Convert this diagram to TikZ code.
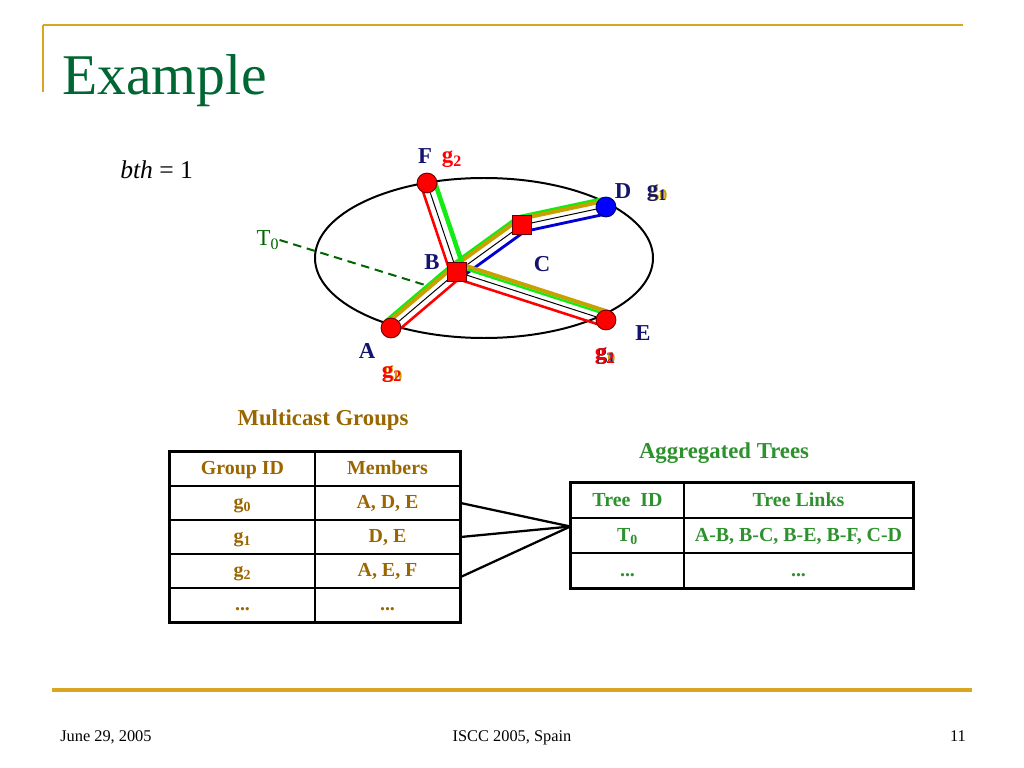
\documentclass[tikz,border=0pt]{standalone}
\usepackage{fontspec}
\setmainfont{Liberation Serif}
\usetikzlibrary{calc, backgrounds}

\definecolor{rulegold}{RGB}{218,165,32}
\definecolor{titlegreen}{RGB}{0,102,51}
\definecolor{navy}{RGB}{20,20,110}
\definecolor{groupbrown}{RGB}{153,102,0}
\definecolor{treegreen}{RGB}{45,145,45}
\definecolor{linkgold}{RGB}{200,160,0}
\definecolor{linkgreen}{RGB}{20,235,20}
\definecolor{linkblue}{RGB}{0,0,210}
\definecolor{dashgreen}{RGB}{0,100,0}

\newcommand{\offsetlink}[4]{\draw[#4] ($(#1)!#3!90:(#2)$) -- ($(#2)!#3!-90:(#1)$);}

\tikzset{
	endnode/.style = {circle, draw = black!60!red, fill = red, line width = 0.6pt, minimum size = 14pt, inner sep = 0pt},
	router/.style = {rectangle, draw = black!60!red, fill = red, line width = 0.6pt, minimum size = 13.4pt, inner sep = 0pt},
	letter/.style = {font = \fontsize{16}{18}\selectfont\bfseries, text = navy, inner sep = 0pt},
	grplabel/.style = {font = \fontsize{16}{18}\selectfont\bfseries, inner sep = 0pt},
	gcell/.style = {draw, line width = 0.9pt, minimum width = 101.95pt, minimum height = 23.9pt, inner sep = 0pt, text height = 11pt, text depth = 3pt, font = \fontsize{14}{16}\selectfont\bfseries, text = groupbrown},
	tcell/.style = {draw, line width = 0.9pt, minimum height = 24.6pt, inner sep = 0pt, text height = 11pt, text depth = 3pt, font = \fontsize{14}{16}\selectfont\bfseries, text = treegreen},
	foot/.style = {font = \fontsize{11.5}{13}\selectfont, inner sep = 0pt, anchor = base}
}

\begin{document}
\begin{tikzpicture}[x = 0.703125pt, y = -0.703125pt]
	\useasboundingbox (0,0) rectangle (1024,768);
	\draw[rulegold, line width = 1.5pt] (43,25) -- (963,25);
	\draw[rulegold, line width = 1.2pt] (43,25) -- (43,92);
	\draw[rulegold, line width = 2.2pt] (52,690) -- (972,690);
	\node[anchor = base west, inner sep = 0pt, text = titlegreen, font = \fontsize{40.5}{44}\selectfont] (title) at (62,95) {Example};
	\node[anchor = base west, inner sep = 0pt, font = \fontsize{18}{20}\selectfont] (bth) at (120,179) {\textit{bth} = 1};

	\node[endnode] (A) at (391,328) {};
	\node[endnode] (E) at (606,320) {};
	\node[endnode] (F) at (427,183) {};
	\node[endnode, fill = blue, draw = black!60!blue] (D) at (606,207) {};
	\node[router] (B) at (457,272) {};
	\node[router] (C) at (522,225) {};

	\node[letter] (labF) at (425,156) {F};
	\node[letter] (labD) at (623,191) {D};
	\node[letter] (labB) at (432,262) {B};
	\node[letter] (labC) at (542,264) {C};
	\node[letter] (labE) at (643,333) {E};
	\node[letter] (labA) at (367,351) {A};

	\node[grplabel, text = red] (gF) at (452,159) {g\textsubscript{2}};
	\node[grplabel, text = linkgold] (gD0) at (658,193) {g\textsubscript{0}};
	\node[grplabel, text = navy] (gD1) at (657,193) {g\textsubscript{1}};
	\node[grplabel, text = linkgold] (gE0) at (606,356) {g\textsubscript{0}};
	\node[grplabel, text = navy] (gE1) at (606,356) {g\textsubscript{1}};
	\node[grplabel, text = red] (gE2) at (605,356) {g\textsubscript{2}};
	\node[grplabel, text = linkgold] (gA0) at (393,374) {g\textsubscript{0}};
	\node[grplabel, text = red] (gA2) at (392,374) {g\textsubscript{2}};

	\node[inner sep = 0pt, text = dashgreen, font = \fontsize{16}{18}\selectfont] (T0) at (268,240) {T\textsubscript{0}};
	\coordinate (T0end) at (425,285);

	\begin{scope}[on background layer]
		\draw[line width = 1.4pt] (484,258) ellipse [x radius = 169, y radius = 80];
		\draw[dashgreen, line width = 1.4pt, dash pattern = on 6pt off 4pt] (T0.east) -- (T0end);
		\offsetlink{A}{B}{6.4pt}{linkgreen, line width = 1.8pt}
		\offsetlink{A}{B}{4.4pt}{linkgold, line width = 2.8pt}
		\draw[line width = 0.7pt] (A) -- (B);
		\offsetlink{A}{B}{-4.6pt}{red, line width = 1.8pt}
		\offsetlink{B}{C}{6.4pt}{linkgreen, line width = 1.8pt}
		\offsetlink{B}{C}{4.4pt}{linkgold, line width = 2.8pt}
		\draw[line width = 0.7pt] (B) -- (C);
		\offsetlink{B}{C}{-4.8pt}{linkblue, line width = 2pt}
		\offsetlink{C}{D}{6.4pt}{linkgreen, line width = 1.8pt}
		\offsetlink{C}{D}{4.4pt}{linkgold, line width = 2.8pt}
		\draw[line width = 0.7pt] (C) -- (D);
		\offsetlink{C}{D}{-4.8pt}{linkblue, line width = 2pt}
		\offsetlink{B}{E}{6pt}{linkgold, line width = 2.8pt}
		\offsetlink{B}{E}{3.8pt}{linkgreen, line width = 1.6pt}
		\draw[line width = 0.7pt] (B) -- (E);
		\offsetlink{B}{E}{-4.6pt}{red, line width = 1.8pt}
		\offsetlink{B}{F}{4.6pt}{red, line width = 1.8pt}
		\draw[line width = 0.7pt] (B) -- (F);
		\offsetlink{B}{F}{-5.4pt}{linkgreen, line width = 3.2pt}
	\end{scope}

	\node[inner sep = 0pt, text = groupbrown, font = \fontsize{16}{18}\selectfont\bfseries] (mgroups) at (323,420) {Multicast Groups};
	\node[gcell] (hgid) at (242.5,469) {Group ID};
	\node[gcell] (hmem) at (387.5,469) {Members};
	\node[gcell] (g0id) at (242.5,503) {g\textsubscript{0}};
	\node[gcell] (g0mem) at (387.5,503) {A, D, E};
	\node[gcell] (g1id) at (242.5,537) {g\textsubscript{1}};
	\node[gcell] (g1mem) at (387.5,537) {D, E};
	\node[gcell] (g2id) at (242.5,571) {g\textsubscript{2}};
	\node[gcell] (g2mem) at (387.5,571) {A, E, F};
	\node[gcell] (gdotid) at (242.5,605) {...};
	\node[gcell] (gdotmem) at (387.5,605) {...};
	\draw[line width = 2.2pt] (hgid.north west) rectangle (gdotmem.south east);

	\node[inner sep = 0pt, text = treegreen, font = \fontsize{16}{18}\selectfont\bfseries] (atrees) at (724,453) {Aggregated Trees};
	\node[tcell, minimum width = 79.45pt] (htid) at (627.5,500.5) {Tree~ ID};
	\node[tcell, minimum width = 161pt] (hlinks) at (798.5,500.5) {Tree Links};
	\node[tcell, minimum width = 79.45pt] (t0id) at (627.5,535.5) {T\textsubscript{0}};
	\node[tcell, minimum width = 161pt] (t0links) at (798.5,535.5) {A-B, B-C, B-E, B-F, C-D};
	\node[tcell, minimum width = 79.45pt] (tdotid) at (627.5,570.5) {...};
	\node[tcell, minimum width = 161pt] (tdotlinks) at (798.5,570.5) {...};
	\draw[line width = 2.2pt] (htid.north west) rectangle (tdotlinks.south east);

	\coordinate (join) at ($(t0id.west)+(0,-9)$);
	\draw[line width = 1.6pt] (g0mem.east) -- (join);
	\draw[line width = 1.6pt] (g1mem.east) -- (join);
	\draw[line width = 1.6pt] ($(g2mem.east)+(0,6)$) -- (join);

	\node[foot, anchor = base west] (date) at (60,741) {June 29, 2005};
	\node[foot] (conf) at (512,741) {ISCC 2005, Spain};
	\node[foot] (page) at (958,741) {11};
\end{tikzpicture}
\end{document}
